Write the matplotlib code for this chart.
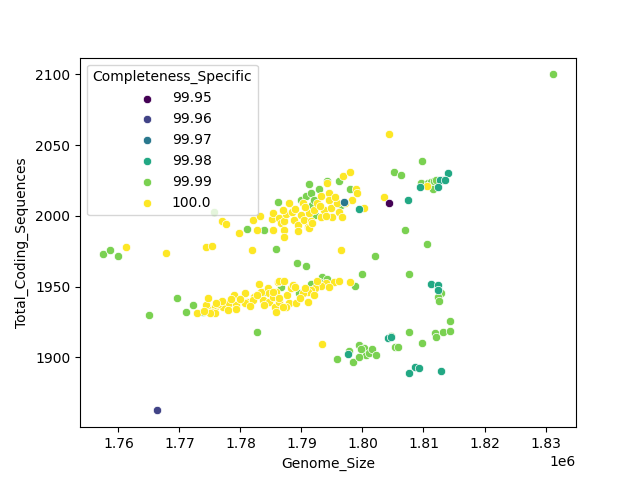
import numpy as np
import matplotlib
matplotlib.use("Agg")
import matplotlib.pyplot as plt

# Genome size in Mb, total coding sequences, for each completeness level
size_100 = [1.7612, 1.7678, 1.7743, 1.7754, 1.7770, 1.7777, 1.7798, 1.7821, 1.7832, 1.7827,
            1.7853, 1.7852, 1.7854, 1.7864, 1.7866, 1.7872, 1.7875, 1.7880, 1.7872, 1.7872,
            1.7885, 1.7888, 1.7894, 1.7899, 1.7902, 1.7904, 1.7910, 1.7913, 1.7915, 1.7921,
            1.7926, 1.7932, 1.7932, 1.7937, 1.7945, 1.7945, 1.7948, 1.7950, 1.7959, 1.7961,
            1.7967, 1.7942, 1.7968, 1.7979, 1.7989, 1.7991, 1.7983, 1.7972, 1.7913, 1.7819,
            1.7964, 1.8036, 1.8044, 1.8003, 1.8105, 1.7934,
            1.7890, 1.7905, 1.7930, 1.7940, 1.7955, 1.7895, 1.7870, 1.7918,
            1.7729, 1.7743, 1.7747, 1.7753, 1.7758, 1.7754, 1.7758, 1.7750, 1.7771, 1.7781,
            1.7780, 1.7790, 1.7792, 1.7793, 1.7808, 1.7810, 1.7807, 1.7822, 1.7820, 1.7830,
            1.7837, 1.7834, 1.7845, 1.7847, 1.7847, 1.7853, 1.7858, 1.7861, 1.7856, 1.7864,
            1.7979, 1.7954, 1.7961, 1.7940, 1.7932, 1.7923, 1.7915, 1.7910, 1.7902, 1.7911,
            1.7863, 1.7872, 1.7864, 1.7877, 1.7880, 1.7891, 1.7875, 1.7858, 1.7853, 1.7883,
            1.7869, 1.7764, 1.7800, 1.7815, 1.7827, 1.7897, 1.7905, 1.7886, 1.7920,
            1.7770, 1.7785, 1.7838, 1.7890, 1.7925, 1.7945, 1.7760, 1.7740]
cds_100 = [1977.8, 1974.0, 1977.8, 1978.7, 1996.2, 1994.0, 1988.0, 1997.0, 2000.0, 1990.1,
           1990.1, 1998.1, 2002.3, 1998.4, 1994.8, 1996.0, 2001.2, 2009.0, 1990.1, 1984.9,
           2003.0, 1997.2, 1993.6, 2000.7, 2009.0, 1997.2, 1992.4, 2001.9, 1996.0, 2004.3,
           2009.0, 2013.7, 1999.5, 2004.3, 2016.1, 2011.3, 2005.5, 1999.5, 2009.0, 2003.0,
           1999.5, 2023.2, 2028.4, 2031.0, 2019.1, 2016.1, 2011.3, 2009.0, 1991.3, 1975.9,
           1975.9, 2013.0, 2058.0, 2005.2, 2021.3, 1909.7,
           2005.0, 2006.0, 2007.0, 2000.0, 2013.0, 1989.0, 2004.0, 1995.0,
           1931.0, 1936.9, 1942.0, 1933.3, 1935.7, 1931.7, 1931.0, 1931.0, 1935.7, 1938.0,
           1933.3, 1944.0, 1936.9, 1933.8, 1945.2, 1939.2, 1938.0, 1942.8, 1940.4, 1951.8,
           1940.4, 1946.3, 1948.7, 1945.2, 1939.2, 1942.8, 1946.3, 1953.4, 1935.7, 1939.2,
           1953.0, 1953.0, 1953.9, 1952.3, 1950.4, 1948.7, 1947.5, 1946.3, 1945.2, 1938.8,
           1953.9, 1953.9, 1941.6, 1944.0, 1938.0, 1938.0, 1935.7, 1932.1, 1946.3, 1948.7,
           1935.7, 1937.5, 1941.0, 1936.0, 1944.0, 1942.0, 1949.0, 1951.0, 1944.0,
           1940.0, 1941.0, 1937.0, 1950.0, 1954.0, 1950.0, 1938.0, 1933.0]

size_9999 = [1.8313, 1.7574, 1.7586, 1.7599, 1.7756, 1.7810, 1.7839, 1.7861, 1.7913, 1.7929,
             1.7942, 1.7961, 1.7899, 1.7907, 1.7915, 1.7918, 1.7921, 1.7923, 1.7964, 1.7980,
             1.7858, 1.8052, 1.8063, 1.8097, 1.8096, 1.8108, 1.8113, 1.8118, 1.8121, 1.8132,
             1.8116, 1.8070, 1.8106, 1.8076, 1.8128, 1.8124, 1.8126, 1.8144, 1.8076, 1.8119,
             1.8120, 1.8132, 1.8143, 1.8097, 1.7959, 1.7978, 1.7994, 1.8002, 1.8005, 1.8010,
             1.8016, 1.8022, 1.7984, 1.7994, 1.7998, 1.8054, 1.8059, 1.8046, 1.7827, 1.7696,
             1.7650, 1.7723, 1.7710, 1.7739, 1.7838, 1.7858, 1.8020, 1.7893, 1.7907, 1.7999,
             1.7987, 1.7933, 1.7942, 1.7915, 1.7896, 1.7928, 1.7866]
cds_9999 = [2100.0, 1972.8, 1976.0, 1971.8, 2003.0, 1991.0, 1990.1, 2009.7, 2022.5, 2019.1,
            2024.3, 2024.8, 2011.3, 2013.7, 2016.1, 2007.8, 2011.3, 2000.7, 2007.8, 2018.9,
            1976.6, 2031.2, 2029.1, 2039.0, 2023.2, 2023.2, 2023.7, 2024.3, 2025.5, 2025.5,
            2018.9, 1990.1, 1979.9, 1958.9, 1945.6, 1942.8, 1939.7, 1925.5, 1917.5, 1916.8,
            1914.4, 1917.5, 1918.7, 1910.4, 1898.6, 1904.5, 1908.5, 1906.2, 1901.4, 1903.0,
            1905.5, 1901.4, 1896.7, 1900.0, 1905.5, 1906.9, 1907.3, 1914.9, 1917.5, 1941.6,
            1929.8, 1936.9, 1931.7, 1931.7, 1946.3, 1935.7, 1971.9, 1966.5, 1964.8, 1958.9,
            1950.6, 1957.0, 1955.3, 1951.8, 1945.2, 1953.4, 1949.4]

size_9998 = [1.7995, 1.8074, 1.8140, 1.8094, 1.8127, 1.8123, 1.8135, 1.8113, 1.8123, 1.8123,
             1.8086, 1.8092, 1.8077, 1.8128, 1.7976, 1.8042, 1.8046]
cds_9998 = [2004.8, 2010.9, 2030.3, 2020.1, 2025.0, 2020.3, 2025.0, 1951.6, 1951.1, 1947.5,
            1893.1, 1892.4, 1889.2, 1890.6, 1902.6, 1913.3, 1914.4]

size_9997 = [1.7970]
cds_9997 = [2010.0]

size_9996 = [1.7663]
cds_9996 = [1862.4]

size_9995 = [1.8043]
cds_9995 = [2009.0]

levels = [99.95, 99.96, 99.97, 99.98, 99.99, 100.0]
groups = {
    100.0: (size_100, cds_100),
    99.99: (size_9999, cds_9999),
    99.98: (size_9998, cds_9998),
    99.97: (size_9997, cds_9997),
    99.96: (size_9996, cds_9996),
    99.95: (size_9995, cds_9995),
}

colors = plt.cm.viridis(np.linspace(0, 1, len(levels)))
color_of = dict(zip(levels, colors))

fig, ax = plt.subplots(figsize=(6.4, 4.8), dpi=100)

for lvl in [99.99, 100.0, 99.98, 99.97, 99.96, 99.95]:
    xs, ys = groups[lvl]
    ax.scatter(np.array(xs) * 1e6, ys, s=36, color=color_of[lvl],
               edgecolor='white', linewidth=0.5)

# legend handles in hue order
for lvl in levels:
    ax.scatter([], [], s=36, color=color_of[lvl], edgecolor='white',
               linewidth=0.5, label=str(lvl))

ax.legend(title='Completeness_Specific', loc='upper left')
ax.set_xlabel('Genome_Size')
ax.set_ylabel('Total_Coding_Sequences')

plt.savefig('out.png')
